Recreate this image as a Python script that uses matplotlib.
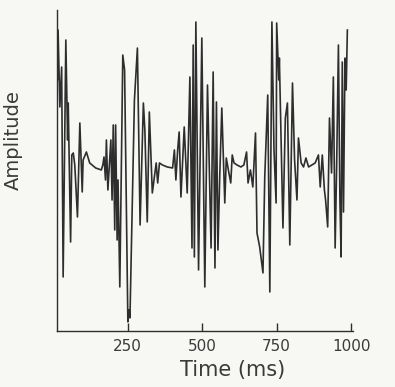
import matplotlib
matplotlib.use("Agg")
import matplotlib.pyplot as plt

# waveform (time in ms, amplitude in arbitrary units)
time_ms = [13, 15, 17, 23, 29, 34, 43, 49, 51, 59, 63, 68, 73, 82, 90, 98, 101,
           112, 123, 143, 162, 167, 171, 176, 179, 184, 190, 194, 198, 202, 207,
           210, 215, 218, 224, 234, 240, 251, 255, 258, 273, 283, 292, 303, 308,
           316, 323, 333, 346, 351, 357, 367, 383, 401, 407, 412, 418, 423, 429,
           440, 450, 459, 466, 470, 474, 479, 488, 499, 509, 518, 530, 537, 543,
           548, 553, 559, 566, 576, 581, 588, 596, 601, 607, 617, 630, 640, 649,
           654, 662, 670, 679, 684, 693, 700, 704, 710, 720, 727, 734, 741, 748,
           750, 757, 759, 771, 779, 786, 794, 803, 810, 818, 823, 832, 840, 848,
           857, 879, 890, 896, 903, 910, 914, 921, 927, 934, 940, 946, 951, 957,
           962, 966, 970, 974, 979, 983, 987]
amplitude = [160, 90, 140, 63, 103, -107, 130, 30, 67, -72, 15, 17, 5, -47, 47,
             -22, 10, 18, 7, 2, 0, 5, 13, -10, 30, -20, 10, 30, -30, 45, -60,
             45, -70, -10, -117, 115, 100, -152, -140, -148, 70, 122, -55, 67,
             40, -52, 58, -23, 7, -13, 7, 5, 3, 2, 20, -10, 20, 38, -27, 43,
             -23, 93, -78, 125, -87, 148, -100, 132, -117, 85, -78, 98, -98, 68,
             -80, -7, 62, -33, 12, 0, -13, 15, 7, 5, 3, 5, 18, -13, 0, -17, 37,
             -63, -77, -93, -103, -7, 75, -122, 148, 20, -33, 147, 90, 112, -58,
             52, 67, -75, 87, 10, -30, 32, 7, 3, 12, 3, 7, 15, -17, 15, -20,
             -30, -57, 52, -3, 93, -78, 3, 125, -30, -87, 108, -42, 112, 80, 140]
xticks = [250, 500, 750, 1000]

paper = "#f7f7f4"
ink = "#2e2e2e"
text_c = "#3a3a3a"

fig = plt.figure(figsize=(3.95, 3.87), dpi=100, facecolor=paper)
ax = fig.add_axes([0.144, 0.145, 0.749, 0.829], facecolor=paper)

ax.plot(time_ms, amplitude, color=ink, linewidth=1.2)

ax.set_xlim(13, 1005)
ax.set_ylim(-161, 160)
ax.spines["top"].set_visible(False)
ax.spines["right"].set_visible(False)
for s in ("left", "bottom"):
    ax.spines[s].set_color(ink)
    ax.spines[s].set_linewidth(1.0)

ax.set_xticks(xticks)
ax.set_xticklabels([str(t) for t in xticks])
ax.set_yticks([])
ax.tick_params(axis="x", direction="in", length=6, width=1.0, color=ink,
               labelsize=11, labelcolor=text_c, pad=6)

# axis titles placed where they sit on the scan
fig.text(233 / 395, 1 - 370 / 387, "Time (ms)", fontsize=15, color=text_c,
         ha="center", va="center")
fig.text(13 / 395, 1 - 140 / 387, "Amplitude", fontsize=14, color=text_c,
         ha="center", va="center", rotation=90)

fig.savefig("out.png", dpi=100, facecolor=paper)
